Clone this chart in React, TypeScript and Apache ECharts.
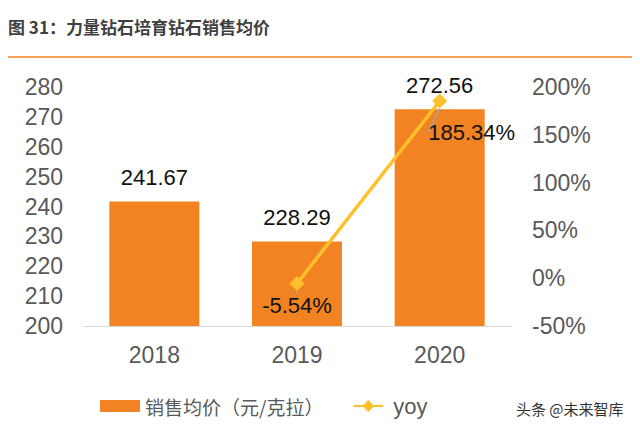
import React, { useEffect, useRef } from "react";
import * as echarts from "echarts";

const categories = ["2018", "2019", "2020"];
const priceValues = [241.67, 228.29, 272.56];
const yoyValues: (number | null)[] = [null, -5.54, 185.34];
const leftTicks = { min: 200, max: 280, interval: 10 };
const rightTicks = { min: -50, max: 200, interval: 50 };

const ORANGE = "#F28322";
const YELLOW = "#FFC12B";
const GRAY = "#595959";
const FONT = "'Liberation Sans', 'Noto Sans CJK SC', sans-serif";
const YOY_ICON =
  "path://M0,7 L14,7 L21,0 L28,7 L42,7 L42,10 L28,10 L21,17 L14,10 L0,10 Z";

export default function App() {
  const ref = useRef<HTMLDivElement>(null);
  useEffect(() => {
    if (!ref.current) return;
    const chart = echarts.init(ref.current, undefined, { renderer: "svg" });
    chart.setOption({
      animation: false,
      backgroundColor: "#fff",
      textStyle: { fontFamily: FONT },
      graphic: [
        {
          type: "text",
          left: 8,
          top: 18,
          style: {
            text: "图 31：力量钻石培育钻石销售均价",
            font: "bold 17px 'Noto Sans CJK SC', sans-serif",
            fill: "#404040",
          },
        },
        {
          type: "line",
          shape: { x1: 0, y1: 57, x2: 634, y2: 57 },
          style: { stroke: "#F4A05A", lineWidth: 2 },
        },
        {
          type: "text",
          left: 516,
          top: 401,
          style: {
            text: "头条 @未来智库",
            font: "15px 'Noto Sans CJK SC', sans-serif",
            fill: "#333",
          },
        },
      ],
      grid: { left: 83, right: 129, top: 87, bottom: 104, containLabel: false },
      legend: {
        left: 95,
        top: 390,
        itemWidth: 40,
        itemHeight: 12,
        itemGap: 30,
        formatter: (name: string) => (name === "yoy" ? "{y|yoy}" : name),
        textStyle: {
          fontSize: 19,
          color: GRAY,
          fontFamily: "'Noto Sans CJK SC', sans-serif",
          rich: {
            y: { fontSize: 22, color: GRAY, fontFamily: "'Liberation Sans Narrow', 'Liberation Sans', sans-serif" },
          },
        },
        data: [
          { name: "销售均价（元/克拉）", icon: "rect" },
          { name: "yoy", icon: YOY_ICON, itemStyle: { color: YELLOW } },
        ],
      },
      xAxis: {
        type: "category",
        data: categories,
        axisLine: { onZero: false, lineStyle: { color: "#D9D9D9", width: 1 } },
        axisTick: { show: false },
        axisLabel: { fontSize: 23, color: GRAY, margin: 17, fontFamily: FONT },
      },
      yAxis: [
        {
          type: "value",
          min: leftTicks.min,
          max: leftTicks.max,
          interval: leftTicks.interval,
          splitLine: { show: false },
          axisLine: { show: false },
          axisTick: { show: false },
          axisLabel: { fontSize: 23, color: GRAY, margin: 20, fontFamily: FONT },
        },
        {
          type: "value",
          min: rightTicks.min,
          max: rightTicks.max,
          interval: rightTicks.interval,
          splitLine: { show: false },
          axisLine: { show: false },
          axisTick: { show: false },
          axisLabel: {
            fontSize: 23,
            color: GRAY,
            margin: 21,
            formatter: "{value}%",
            fontFamily: FONT,
          },
        },
      ],
      series: [
        {
          name: "销售均价（元/克拉）",
          type: "bar",
          data: priceValues,
          barWidth: 90,
          itemStyle: { color: ORANGE },
          label: {
            show: true,
            position: "top",
            distance: 13,
            fontSize: 22,
            color: "#111",
            fontFamily: FONT,
            formatter: (p: any) => p.value.toFixed(2),
          },
        },
        {
          name: "yoy",
          type: "line",
          yAxisIndex: 1,
          data: yoyValues,
          connectNulls: false,
          symbol: "diamond",
          symbolSize: 15,
          lineStyle: { color: YELLOW, width: 3.5 },
          itemStyle: { color: YELLOW },
          label: {
            show: true,
            position: "bottom",
            distance: 3,
            fontSize: 22,
            color: "#111",
            fontFamily: FONT,
            formatter: (p: any) => (p.value == null ? "" : p.value.toFixed(2) + "%"),
          },
          labelLine: { show: true, lineStyle: { color: "#A6A6A6", width: 1.5 } },
          labelLayout: (params: any) =>
            params.dataIndex === 2 ? { dx: 32, dy: 10 } : {},
          z: 5,
        },
      ],
    });
    return () => chart.dispose();
  }, []);
  return <div ref={ref} style={{ width: 640, height: 430, margin: -8 }} />;
}
